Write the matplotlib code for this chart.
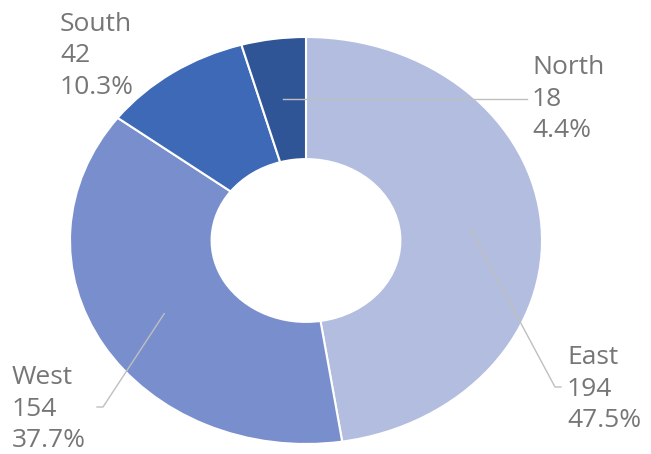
import numpy as np
import matplotlib
matplotlib.use("Agg")
from matplotlib import pyplot as plt
from matplotlib.lines import Line2D

# Data
regions = ["East", "West", "South", "North"]
counts = [194, 154, 42, 18]
colors = ["#b2bddf", "#798fcd", "#3e69b6", "#2f5597"]

W, H = 651, 454
fig = plt.figure(figsize=(W / 100, H / 100), dpi=100)
fig.patch.set_facecolor("white")

# Axes covering the (elliptical) donut, in pixel units
left, right, top, bottom = 70, 542, 37, 444
ax = fig.add_axes([left / W, 1 - bottom / H, (right - left) / W, (bottom - top) / H])
wedges, _ = ax.pie(counts, colors=colors, startangle=90, counterclock=False,
                   radius=1.0, wedgeprops=dict(width=0.6, edgecolor="white", linewidth=1.5))
ax.set_aspect("auto")
ax.set_xlim(-1, 1)
ax.set_ylim(-1, 1)
ax.axis("off")

total = sum(counts)
pcts = [100.0 * c / total for c in counts]

text_color = "#767676"
line_color = "#bfbfbf"
font = "Open Sans"

# label layout: (text left x, middle-line y, elbow point or None) in pixels
layout = {
    "East": (567, 389, (555, 387)),
    "West": (12, 409, (103, 407)),
    "South": (60, 56, None),
    "North": (532, 99, None),
}


def px_to_fig(x, y):
    return x / W, 1 - y / H


for w, name, c, p in zip(wedges, regions, counts, pcts):
    tx, ty, elbow = layout[name]
    fx, fy = px_to_fig(tx, ty)
    fig.text(fx, fy, "%s\n%d\n%.1f%%" % (name, c, p), ha="left", va="center",
             fontsize=19, color=text_color, family=font, linespacing=1.33)
    if name == "South":
        continue
    # anchor at the middle of the ring, at the wedge's mid angle
    ang = np.deg2rad((w.theta1 + w.theta2) / 2.0)
    ax_pt = ax.transData.transform((0.7 * np.cos(ang), 0.7 * np.sin(ang)))
    ax_fig = fig.transFigure.inverted().transform(ax_pt)
    if elbow is None:
        ex, ey = px_to_fig(tx - 5, ty)
        xs = [ax_fig[0], ex]
        ys = [ax_fig[1], ax_fig[1]]
    else:
        bx, by = px_to_fig(*elbow)
        if tx > elbow[0]:
            endx, _ = px_to_fig(tx - 6, 0)
        else:
            endx, _ = px_to_fig(elbow[0] - 6, 0)
        xs = [ax_fig[0], bx, endx]
        ys = [ax_fig[1], by, by]
    fig.add_artist(Line2D(xs, ys, color=line_color, linewidth=1.0, transform=fig.transFigure))

fig.savefig("out.png", dpi=100)
